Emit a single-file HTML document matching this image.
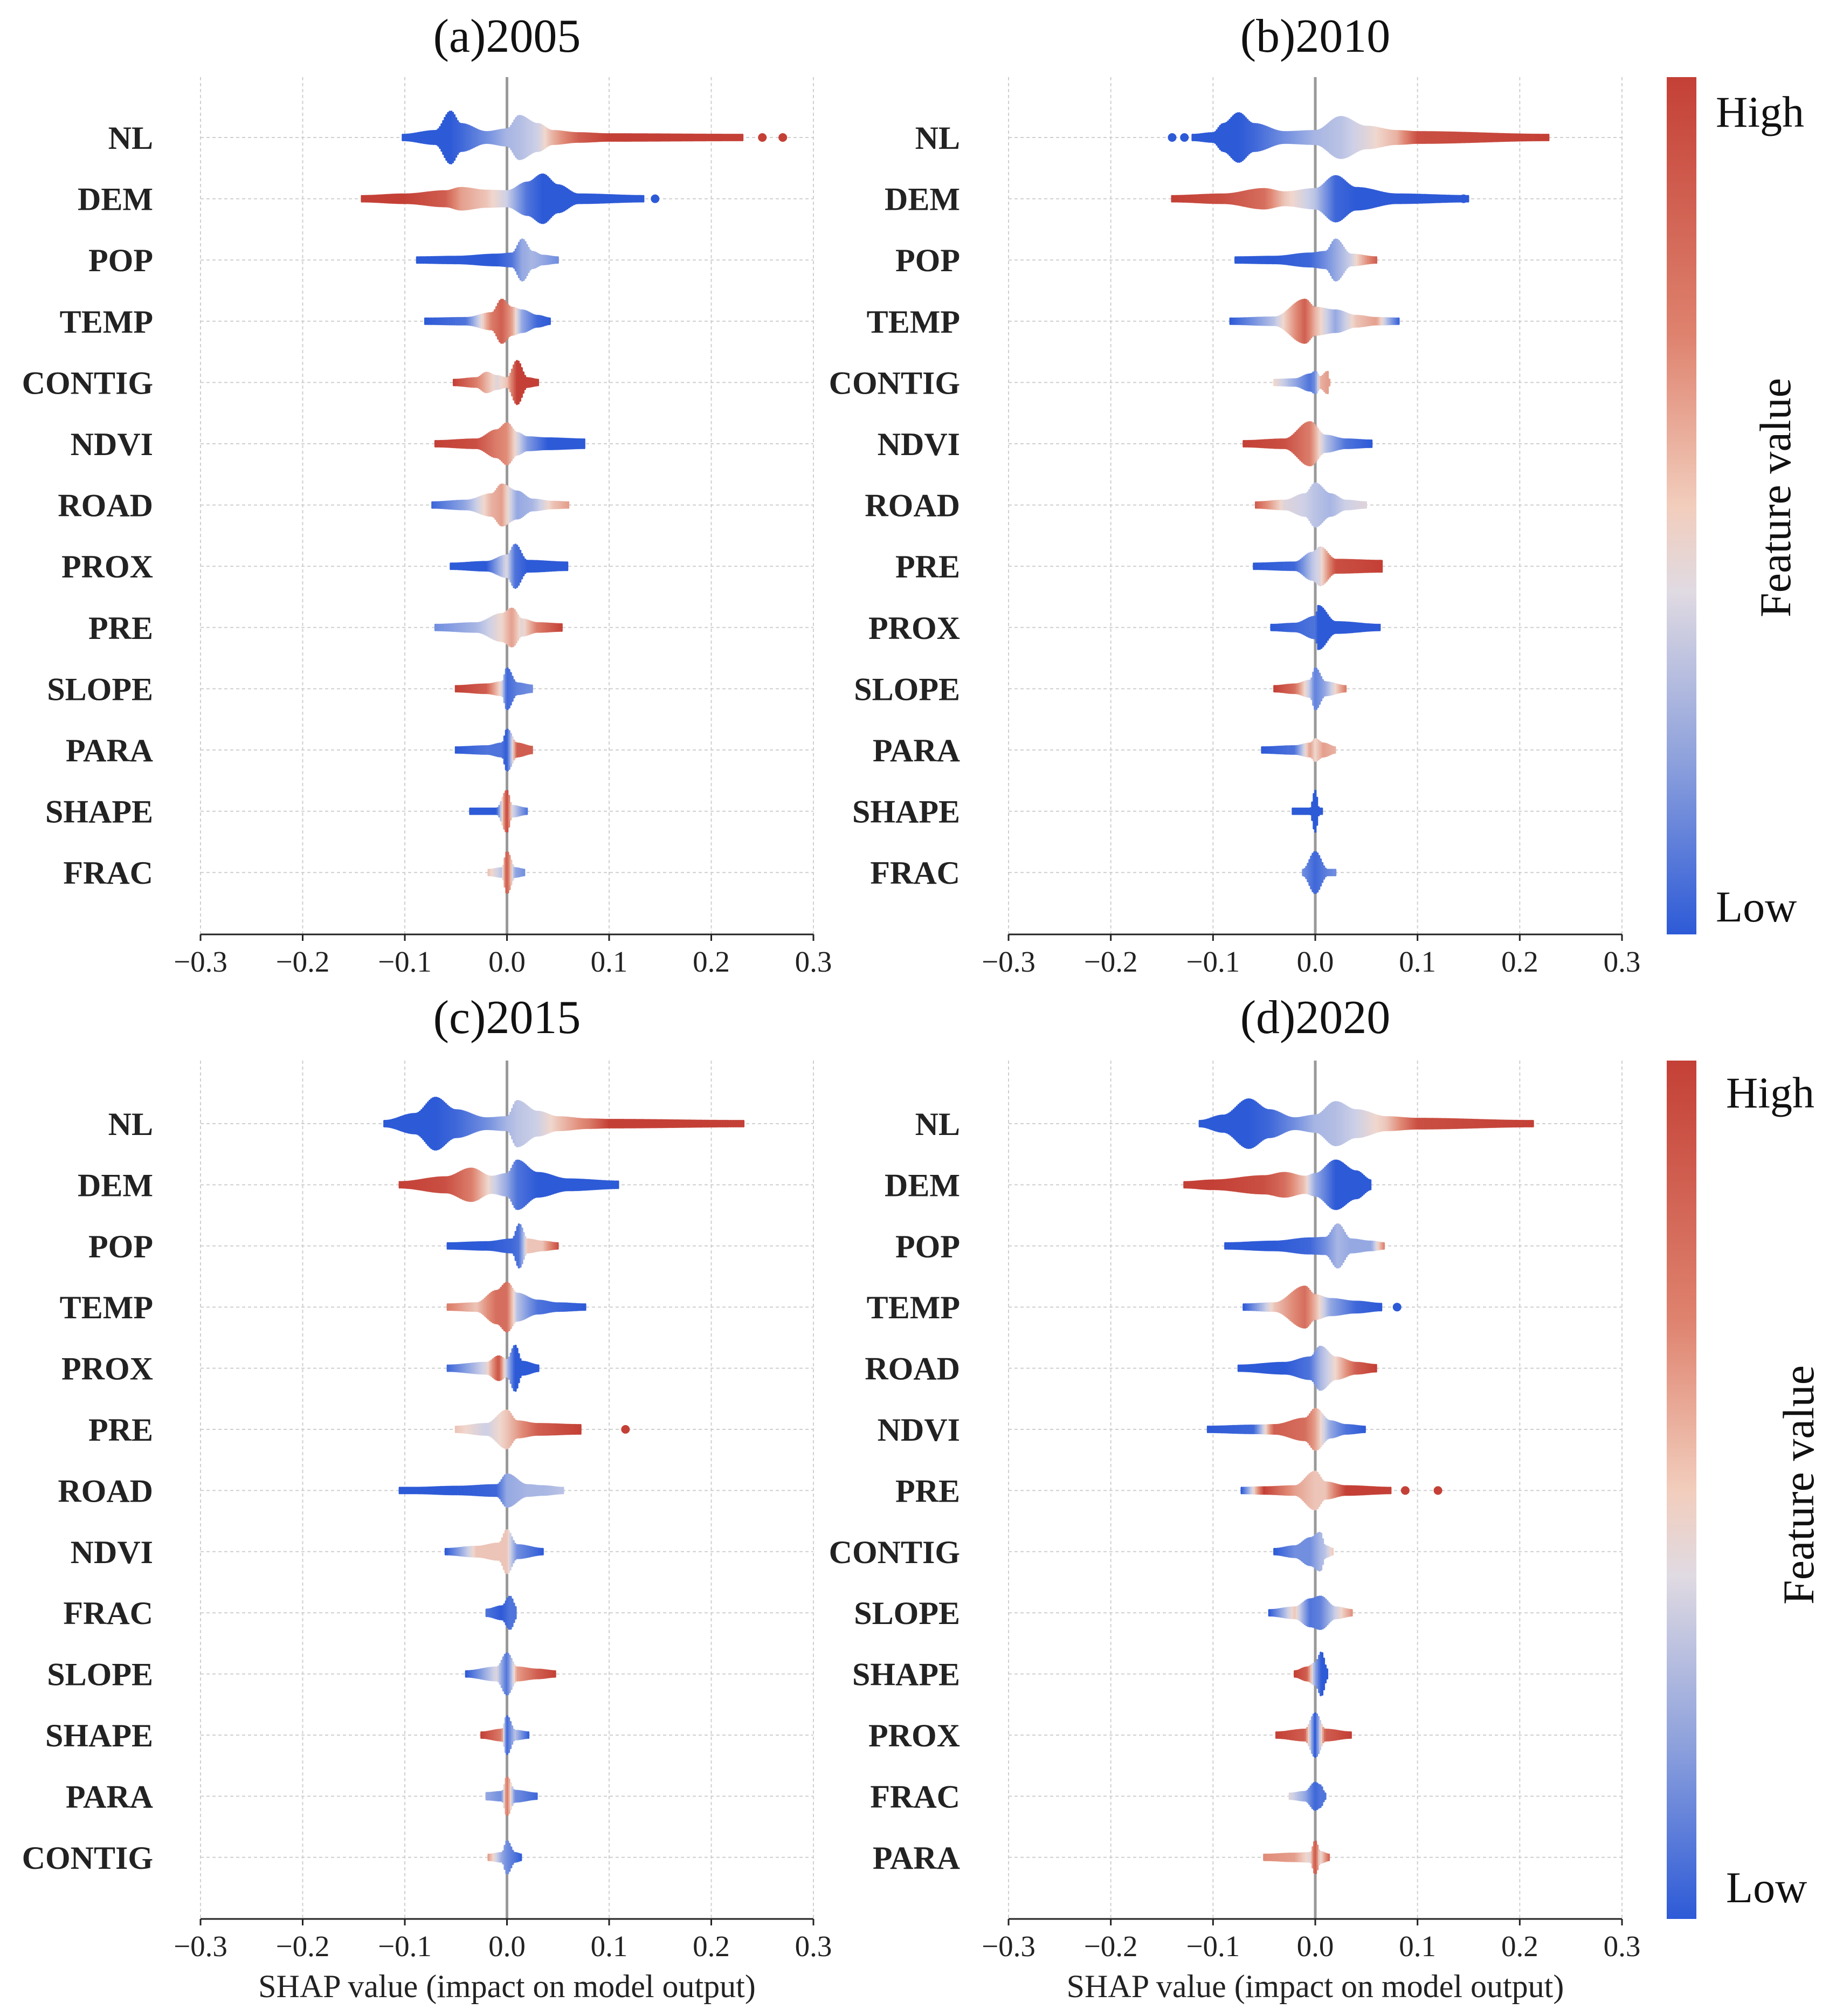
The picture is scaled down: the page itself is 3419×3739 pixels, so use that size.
<!DOCTYPE html>
<html><head><meta charset="utf-8">
<style>
html,body{margin:0;padding:0;background:#fff;}
svg{display:block;font-family:"Liberation Serif",serif;}
</style></head>
<body>
<svg id="fig" width="3419" height="3739" viewBox="0 0 3419 3739" xmlns="http://www.w3.org/2000/svg">
<defs>
<linearGradient id="cbar" x1="0" y1="0" x2="0" y2="1">
<stop offset="0" stop-color="rgb(196,64,54)"/>
<stop offset="0.3" stop-color="rgb(222,130,110)"/>
<stop offset="0.5" stop-color="rgb(242,205,188)"/>
<stop offset="0.6" stop-color="rgb(224,218,226)"/>
<stop offset="0.8" stop-color="rgb(140,160,220)"/>
<stop offset="1" stop-color="rgb(45,90,215)"/>
</linearGradient>
</defs>
</svg>
<script>
// ---- data ----
const ticks = [-0.3,-0.2,-0.1,0.0,0.1,0.2,0.3];
const tickLabels = ["\u22120.3","\u22120.2","\u22120.1","0.0","0.1","0.2","0.3"];
const titles = ["(a)2005","(b)2010","(c)2015","(d)2020"];
const featA = ["NL","DEM","POP","TEMP","CONTIG","NDVI","ROAD","PROX","PRE","SLOPE","PARA","SHAPE","FRAC"];
const featB = ["NL","DEM","POP","TEMP","CONTIG","NDVI","ROAD","PRE","PROX","SLOPE","PARA","SHAPE","FRAC"];
const featC = ["NL","DEM","POP","TEMP","PROX","PRE","ROAD","NDVI","FRAC","SLOPE","SHAPE","PARA","CONTIG"];
const featD = ["NL","DEM","POP","TEMP","ROAD","NDVI","PRE","CONTIG","SLOPE","SHAPE","PROX","FRAC","PARA"];
// knots per feature: [shap value, half-height(px), feature-value colour 0..1]
const profA = [
[[-0.102,5,0],[-0.07,12,0],[-0.055,48,0],[-0.045,25,0.05],[-0.02,10,0.2],[0,15,0.35],[0.012,40,0.38],[0.03,25,0.45],[0.045,12,0.65],[0.07,8,0.9],[0.1,6,1],[0.232,5,1]],
[[-0.142,5,1],[-0.1,8,1],[-0.06,14,0.9],[-0.045,20,0.7],[-0.02,15,0.6],[0,14,0.45],[0.02,30,0.1],[0.035,45,0],[0.05,25,0],[0.07,8,0],[0.135,5,0]],
[[-0.088,5,0],[-0.05,6,0],[-0.01,10,0],[0.005,12,0.1],[0.015,38,0.3],[0.025,15,0.35],[0.035,8,0.3],[0.05,5,0.2]],
[[-0.08,5,0],[-0.04,6,0.1],[-0.015,15,0.8],[-0.005,40,0.9],[0.005,25,0.7],[0.015,20,0.3],[0.03,10,0.05],[0.043,5,0]],
[[-0.052,5,1],[-0.03,8,0.8],[-0.02,18,0.65],[-0.01,12,0.5],[0,8,0.6],[0.01,40,1],[0.02,8,1],[0.031,5,1]],
[[-0.07,5,1],[-0.03,8,0.95],[-0.01,25,0.8],[0,38,0.75],[0.01,20,0.5],[0.02,12,0.25],[0.04,10,0],[0.076,8,0]],
[[-0.073,5,0.05],[-0.04,8,0.3],[-0.015,20,0.65],[-0.005,38,0.7],[0.01,25,0.3],[0.025,10,0.35],[0.045,6,0.6],[0.06,5,0.7]],
[[-0.055,5,0],[-0.02,8,0],[0,20,0.5],[0.008,40,0.1],[0.02,10,0],[0.06,7,0]],
[[-0.07,5,0.2],[-0.03,8,0.35],[-0.005,25,0.55],[0.005,35,0.7],[0.015,15,0.5],[0.03,8,0.8],[0.055,6,1]],
[[-0.05,5,1],[-0.02,8,0.9],[-0.005,12,0.5],[0,38,0.05],[0.01,10,0.15],[0.025,6,0.2]],
[[-0.05,5,0],[-0.02,7,0.1],[-0.005,12,0.1],[0,38,0],[0.01,12,0.9],[0.025,6,0.9]],
[[-0.036,5,0],[-0.01,5,0],[0,38,1],[0.005,10,0.5],[0.02,5,0.1]],
[[-0.018,5,0.6],[-0.005,8,0.4],[0,38,0.95],[0.008,8,0.3],[0.018,5,0.2]]
];
const profB = [
[[-0.12,5,0],[-0.1,8,0],[-0.09,25,0],[-0.075,45,0],[-0.06,25,0.05],[-0.03,10,0.2],[0,12,0.35],[0.025,38,0.4],[0.05,20,0.5],[0.08,12,0.65],[0.1,10,0.95],[0.228,5,1]],
[[-0.14,5,1],[-0.09,8,0.95],[-0.05,18,0.85],[-0.03,12,0.6],[0,18,0.4],[0.02,42,0.05],[0.04,20,0],[0.08,8,0],[0.15,5,0]],
[[-0.078,5,0],[-0.04,6,0],[-0.005,12,0.05],[0.01,15,0.2],[0.02,38,0.3],[0.035,10,0.45],[0.06,5,0.9]],
[[-0.083,5,0],[-0.04,7,0.4],[-0.01,40,0.9],[0,25,0.65],[0.02,20,0.3],[0.04,10,0.6],[0.06,6,0.7],[0.083,5,0]],
[[-0.04,5,0.55],[-0.02,6,0.3],[-0.005,15,0.1],[0,20,0.2],[0.005,10,0.65],[0.012,20,0.7],[0.014,5,0.7]],
[[-0.07,5,1],[-0.03,8,0.95],[-0.005,40,0.8],[0.01,15,0.4],[0.03,8,0.1],[0.055,6,0]],
[[-0.058,5,0.9],[-0.03,8,0.5],[-0.01,20,0.45],[0,40,0.4],[0.015,20,0.35],[0.03,8,0.45],[0.05,5,0.5]],
[[-0.06,5,0],[-0.02,7,0.05],[-0.003,25,0.4],[0.005,35,0.5],[0.02,12,0.95],[0.066,10,1]],
[[-0.043,5,0],[-0.02,7,0.05],[0,20,0.1],[0.003,40,0],[0.02,10,0],[0.064,5,0]],
[[-0.04,5,1],[-0.02,8,0.85],[-0.005,15,0.4],[0,38,0.15],[0.01,12,0.3],[0.03,5,0.8]],
[[-0.052,5,0],[-0.02,7,0.1],[-0.005,12,0.7],[0,20,0.55],[0.008,12,0.7],[0.02,5,0.65]],
[[-0.022,5,0],[-0.005,5,0],[0,38,0],[0.004,5,0],[0.008,5,0]],
[[-0.012,5,0.2],[0,38,0.05],[0.012,5,0.15],[0.02,5,0.2]]
];
const profC = [
[[-0.12,5,0],[-0.09,18,0],[-0.07,48,0],[-0.05,25,0.05],[-0.02,10,0.2],[0,12,0.35],[0.01,42,0.4],[0.03,22,0.45],[0.05,12,0.6],[0.08,8,0.8],[0.1,7,1],[0.232,5,1]],
[[-0.105,5,1],[-0.06,14,0.95],[-0.035,30,0.8],[-0.015,15,0.5],[0,20,0.3],[0.01,45,0.1],[0.03,22,0],[0.06,10,0],[0.11,6,0]],
[[-0.058,5,0],[-0.02,7,0],[0.005,12,0.05],[0.012,40,0.1],[0.02,12,0.6],[0.035,8,0.6],[0.05,5,0.95]],
[[-0.058,5,0.8],[-0.03,7,0.6],[-0.01,30,0.85],[0,45,0.85],[0.01,25,0.4],[0.03,12,0.1],[0.05,7,0.05],[0.078,5,0]],
[[-0.058,5,0.05],[-0.02,10,0.5],[-0.008,22,0.95],[0,15,0.4],[0.008,42,0],[0.015,12,0],[0.032,5,0]],
[[-0.05,5,0.6],[-0.02,10,0.45],[0,35,0.6],[0.01,15,0.7],[0.03,10,0.9],[0.072,8,1]],
[[-0.105,5,0],[-0.09,5,0],[-0.05,7,0],[-0.01,10,0.05],[0,30,0.3],[0.02,10,0.35],[0.035,8,0.35],[0.055,5,0.4]],
[[-0.06,5,0],[-0.03,9,0.6],[-0.008,15,0.6],[0,40,0.6],[0.01,12,0.2],[0.036,5,0]],
[[-0.02,6,0.1],[-0.005,12,0],[0.003,30,0.1],[0.01,8,0.1]],
[[-0.04,5,0],[-0.01,12,0.5],[0,38,0.1],[0.01,12,0.7],[0.03,8,0.9],[0.048,5,1]],
[[-0.025,5,1],[-0.005,10,0.8],[0,35,0.05],[0.008,8,0.4],[0.022,5,0]],
[[-0.02,6,0.3],[-0.005,8,0.2],[0,35,0.85],[0.008,10,0.2],[0.03,5,0.05]],
[[-0.018,5,0.7],[-0.005,8,0.3],[0,30,0.2],[0.008,8,0.1],[0.015,5,0]]
];
const profD = [
[[-0.113,5,0],[-0.09,15,0],[-0.065,45,0],[-0.045,25,0.05],[-0.02,10,0.2],[0,15,0.35],[0.02,40,0.38],[0.04,25,0.45],[0.07,12,0.6],[0.1,9,0.95],[0.213,5,1]],
[[-0.128,5,1],[-0.1,8,1],[-0.05,16,0.95],[-0.03,22,0.85],[-0.01,15,0.6],[0,20,0.3],[0.02,45,0],[0.04,25,0],[0.055,8,0]],
[[-0.088,5,0],[-0.04,8,0],[-0.005,14,0.05],[0.01,15,0.2],[0.022,40,0.35],[0.035,12,0.3],[0.055,8,0.3],[0.068,5,0.8]],
[[-0.07,5,0],[-0.04,7,0.6],[-0.01,38,0.85],[0,22,0.65],[0.015,15,0.3],[0.04,10,0.05],[0.065,6,0]],
[[-0.075,5,0],[-0.03,10,0],[-0.005,20,0.1],[0.005,40,0.35],[0.02,20,0.55],[0.04,10,0.9],[0.06,6,1]],
[[-0.105,5,0],[-0.06,7,0.05],[-0.04,8,0.9],[-0.01,20,0.85],[0,38,0.7],[0.015,15,0.3],[0.03,8,0.1],[0.05,5,0]],
[[-0.072,5,0],[-0.05,6,1],[-0.02,8,0.7],[0,35,0.6],[0.01,15,0.6],[0.03,8,1],[0.075,5,1]],
[[-0.04,5,0],[-0.02,10,0.2],[-0.005,25,0.2],[0.005,35,0.35],[0.01,10,0.4],[0.018,5,0.6]],
[[-0.045,5,0],[-0.02,10,0.6],[-0.005,25,0.1],[0.005,30,0.15],[0.02,10,0.45],[0.037,5,0.75]],
[[-0.02,5,1],[-0.008,12,0.9],[0,20,0.3],[0.006,40,0],[0.012,8,0]],
[[-0.038,5,1],[-0.01,10,0.9],[0,40,0],[0.01,10,0.9],[0.035,5,1]],
[[-0.025,5,0.5],[-0.01,8,0.3],[0,25,0.05],[0.005,20,0.1],[0.01,5,0.1]],
[[-0.05,5,0.75],[-0.02,7,0.7],[-0.005,8,0.5],[0,30,0.95],[0.005,10,0.5],[0.014,5,0.9]]
];
// outlier points: [row index, shap value, colour]
const outA = [[0,0.25,1],[0,0.27,1],[1,0.145,0]];
const outB = [[0,-0.14,0],[0,-0.128,0],[1,0.145,0]];
const outC = [[5,0.116,1]];
const outD = [[3,0.08,0],[6,0.088,1],[6,0.12,1]];

// ---- layout ----
const NS="http://www.w3.org/2000/svg";
const svg=document.getElementById('fig');
function mk(tag,attrs,parent){const e=document.createElementNS(NS,tag);for(const k in attrs)e.setAttribute(k,attrs[k]);(parent||svg).appendChild(e);return e;}
const panels=[
 {x0:372,x1:1509,top:143,axis:1733,row0:255,step:113.6,labR:284,titleY:96,tickY:1802,feats:featA,prof:profA,out:outA,xlabel:false},
 {x0:1871,x1:3009,top:143,axis:1733,row0:255,step:113.6,labR:1781,titleY:96,tickY:1802,feats:featB,prof:profB,out:outB,xlabel:false},
 {x0:372,x1:1509,top:1967,axis:3559,row0:2084,step:113.4,labR:284,titleY:1916,tickY:3628,feats:featC,prof:profC,out:outC,xlabel:true},
 {x0:1871,x1:3009,top:1967,axis:3559,row0:2084,step:113.4,labR:1781,titleY:1916,tickY:3628,feats:featD,prof:profD,out:outD,xlabel:true}
];
const stops=[[0,[45,90,215]],[0.25,[130,155,225]],[0.45,[205,208,230]],[0.55,[240,215,205]],[0.75,[225,140,120]],[1,[196,64,54]]];
function col(c){for(let i=1;i<stops.length;i++){if(c<=stops[i][0]){const a=stops[i-1],b=stops[i];const t=(c-a[0])/(b[0]-a[0]);const r=a[1].map((v,j)=>Math.round(v+(b[1][j]-v)*t));return `rgb(${r[0]},${r[1]},${r[2]})`;}}return 'rgb(196,64,54)';}

panels.forEach((p,pi)=>{
 const g=mk('g',{});
 
 
 const sx=v=>p.x0+(v+0.3)/0.6*(p.x1-p.x0);
 const ry=i=>p.row0+i*p.step;
 const t=mk('text',{x:(p.x0+p.x1)/2,y:p.titleY,'font-size':88,'text-anchor':'middle',fill:'#111'},g);
 t.textContent=titles[pi];
 
 
 ticks.forEach((v,i)=>{
  const l=mk('line',{x1:sx(v),x2:sx(v),y1:p.top,y2:p.axis,stroke:'#cfcfcf','stroke-width':2,'stroke-dasharray':'6,5'},g);
  
  
  const tk=mk('line',{x1:sx(v),x2:sx(v),y1:p.axis,y2:p.axis+12,stroke:'#222','stroke-width':3},g);
  
  
  const tl=mk('text',{x:sx(v),y:p.tickY,'font-size':55,'text-anchor':'middle',fill:'#222'},g);
  tl.textContent=tickLabels[i];
  
  
 });
 p.feats.forEach((f,i)=>{
  const l=mk('line',{x1:p.x0,x2:p.x1,y1:ry(i),y2:ry(i),stroke:'#cfcfcf','stroke-width':2,'stroke-dasharray':'6,5'},g);
  
  
  const tl=mk('text',{x:p.labR,y:ry(i)+21,'font-size':60,'font-weight':'bold','text-anchor':'end',fill:'#222'},g);
  tl.textContent=f;
  
  
 });
 const z=mk('line',{x1:sx(0),x2:sx(0),y1:p.top,y2:p.axis,stroke:'#999','stroke-width':5},g);
 
 
 p.prof.forEach((kn,i)=>{
  const sg=mk('g',{},g);
  
  
  const y=ry(i);
  const xa=sx(kn[0][0]),xb=sx(kn[kn.length-1][0]);
  for(let x=xa;x<=xb;x+=3){
   const v=(x-p.x0)/(p.x1-p.x0)*0.6-0.3;
   let k=0;while(k<kn.length-2&&v>kn[k+1][0])k++;
   const a=kn[k],b=kn[k+1];const tt=Math.max(0,Math.min(1,(v-a[0])/(b[0]-a[0])));
   const st=(1-Math.cos(Math.PI*tt))/2;
   const h=a[1]+(b[1]-a[1])*st,c=a[2]+(b[2]-a[2])*tt;
   const s=mk('line',{x1:x,x2:x,y1:y-h,y2:y+h,stroke:col(c),'stroke-width':4,'stroke-linecap':'round'},sg);
   
   
  }
 });
 p.out.forEach(o=>{
  const d=mk('circle',{cx:sx(o[1]),cy:ry(o[0]),r:8,fill:col(o[2])},g);
  
  
 });
 const ax=mk('line',{x1:p.x0,x2:p.x1,y1:p.axis,y2:p.axis,stroke:'#222','stroke-width':3},g);
 
 
 if(p.xlabel){
  const xl=mk('text',{x:(p.x0+p.x1)/2,y:3704,'font-size':60,'text-anchor':'middle',fill:'#222'},g);
  xl.textContent='SHAP value (impact on model output)';
  
  
 }
});
[[143,1733,3183,207,1681,3302,923],[1967,3559,3202,2026,3500,3345,2754]].forEach((c,i)=>{
 const r=mk('rect',{x:3092,y:c[0],width:55,height:c[1]-c[0],fill:'url(#cbar)'});
 
 
 const hi=mk('text',{x:c[2],y:c[3]+28,'font-size':82,fill:'#111'});
 hi.textContent='High';
 
 
 const lo=mk('text',{x:c[2],y:c[4]+28,'font-size':82,fill:'#111'});
 lo.textContent='Low';
 
 
 const fv=mk('text',{x:c[5],y:c[6],'font-size':82,'text-anchor':'middle',fill:'#111',transform:`rotate(-90 ${c[5]} ${c[6]})`,'dominant-baseline':'middle'});
 fv.textContent='Feature value';
 
 
});
</script>
</body></html>
